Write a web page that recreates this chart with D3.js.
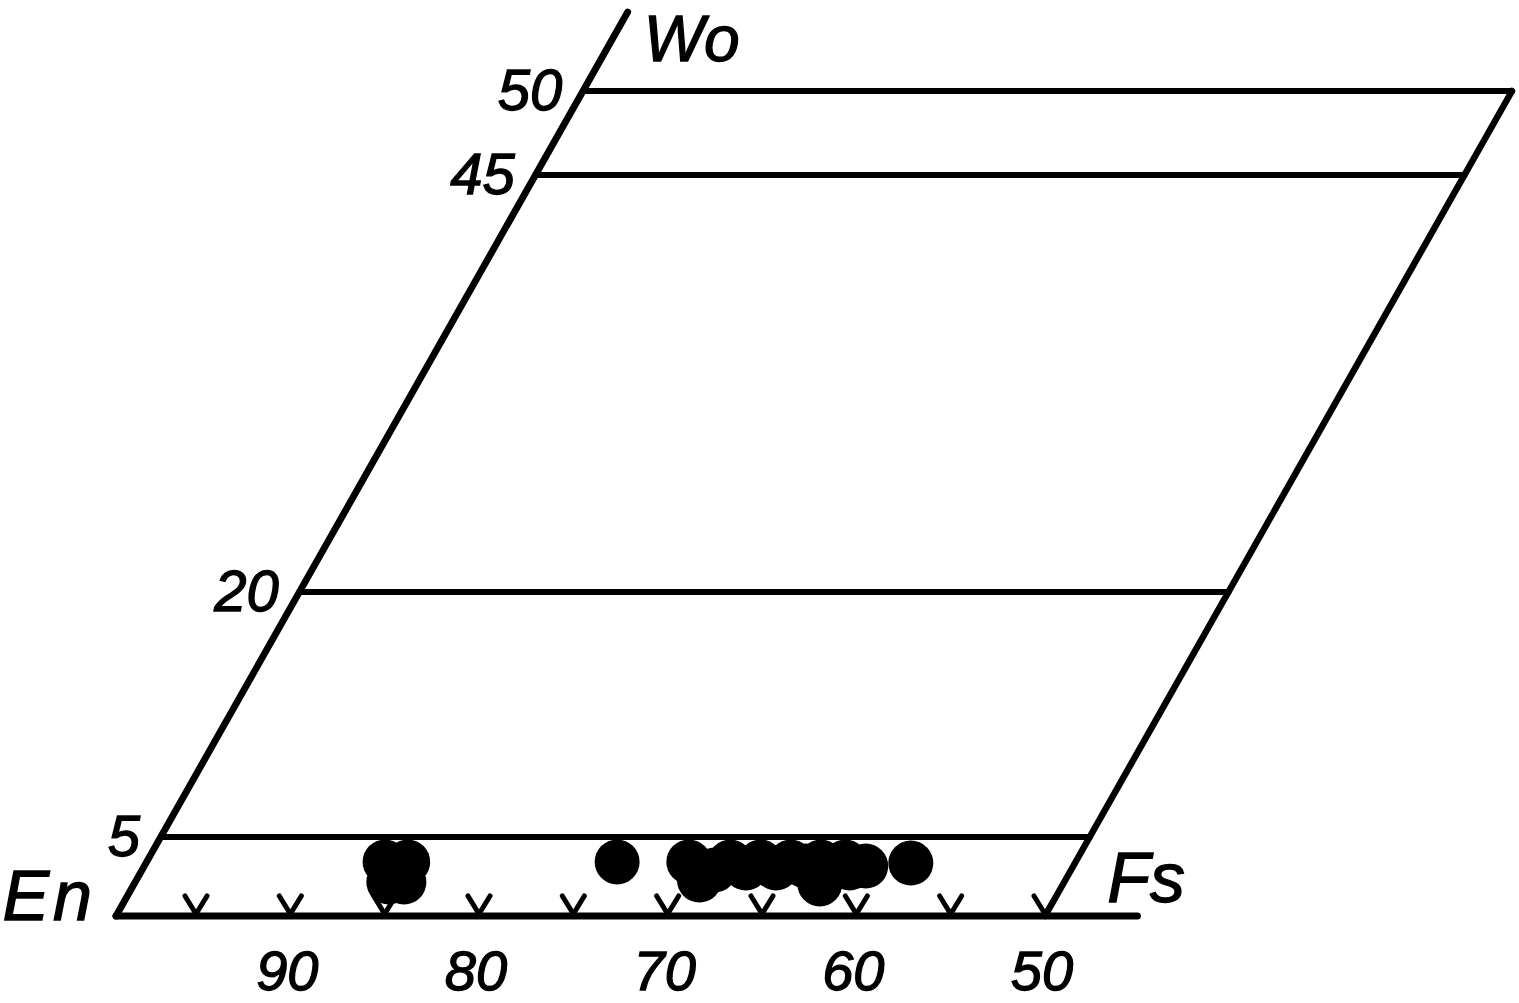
<!DOCTYPE html>
<html>
<head>
<meta charset="utf-8">
<script src="https://cdn.jsdelivr.net/npm/d3@7"></script>
<style>
  html, body { margin: 0; padding: 0; background: #fff; }
  svg { display: block; }
  text { font-family: "Liberation Sans", Arial, sans-serif; font-style: italic; fill: #000; stroke: #000; stroke-width: 1.3; }
</style>
</head>
<body>
<svg id="chart" width="1519" height="1003"></svg>
<script>
// ---- data ----
// Wo levels of the horizontal lines in the pyroxene quadrilateral
const woLevels = [5, 20, 45, 50];
const woLabels = ["5", "20", "45", "50"];
// Fs positions of the V ticks along the En-Fs join
const baseTicks = [5, 10, 15, 20, 25, 30, 35, 40, 45, 50];
// labelled En values on the En-Fs join
const enLabels = [90, 80, 70, 60, 50];
// pyroxene analyses: Wo and Fs (mol %)
const pointWo = [3.42, 3.42, 2.15, 2.15, 3.42, 3.42, 3.42, 3.42, 3.42, 3.42, 3.42, 3.16, 3.35, 2.28, 3.04, 3.04, 2.03, 2.91, 3.04, 3.16];
const pointFs = [13.4, 14.6, 14.2, 15.0, 25.7, 29.5, 31.7, 33.3, 34.9, 36.5, 37.8, 39.0, 41.3, 30.6, 32.7, 34.3, 37.1, 31.1, 38.2, 35.8];
const endMembers = ["En", "Fs", "Wo"];

// ---- scales ----
const svg = d3.select("#chart");
const xs = d3.scaleLinear().domain([0, 5, 50]).range([116, 196, 1045]);
const ys = d3.scaleLinear().domain([0, 5, 20, 45, 50]).range([916, 837, 592, 175, 91]);
const skew = 467 / 825; // horizontal shift per pixel of height
const y0 = ys(0);
const px = (fs, wo) => xs(fs) + skew * (y0 - ys(wo));
const py = wo => ys(wo);

const lw = 6.2;
const g = svg.append("g").attr("fill", "none").attr("stroke", "#000")
  .attr("stroke-linecap", "round").attr("stroke-width", lw);

// base line En-Fs (extended past Fs50)
g.append("line").attr("x1", px(0, 0)).attr("y1", py(0))
  .attr("x2", px(54.9, 0)).attr("y2", py(0)).attr("stroke-width", 7);
// left edge (En-Wo), extended above Wo50
g.append("line").attr("x1", px(0, 0)).attr("y1", py(0))
  .attr("x2", px(0, 54.7)).attr("y2", py(54.7)).attr("stroke-width", 6.8);
// right edge (Fs50 side)
g.append("line").attr("x1", px(50, 0)).attr("y1", py(0))
  .attr("x2", px(50, 50)).attr("y2", py(50)).attr("stroke-width", 6.5);
// horizontal Wo lines
g.selectAll("line.wo").data(woLevels).join("line").attr("class", "wo")
  .attr("x1", d => px(0, d)).attr("y1", d => py(d))
  .attr("x2", d => px(50, d)).attr("y2", d => py(d));

// V ticks
const vPath = fs => {
  const x = xs(fs), y = y0 - 2;
  return `M${x - 11},${y - 18} L${x},${y} L${x + 11},${y - 18}`;
};
g.selectAll("path.v").data(baseTicks).join("path").attr("class", "v")
  .attr("d", vPath).attr("stroke-width", 5).attr("stroke-linejoin", "round");

// points
svg.append("g").selectAll("circle").data(pointFs.map((f, i) => [f, pointWo[i]]))
  .join("circle")
  .attr("cx", d => px(d[0], d[1])).attr("cy", d => py(d[1]))
  .attr("r", 22.5).attr("fill", "#000");

// Wo labels on the left edge
svg.append("g").selectAll("text").data(woLevels).join("text")
  .attr("x", d => px(0, d) - skew * 19 - 10)
  .attr("y", d => py(d) + 19)
  .attr("text-anchor", "end").attr("font-size", 58)
  .text((d, i) => woLabels[i]);

// En labels below base
svg.append("g").selectAll("text").data(enLabels).join("text")
  .attr("x", d => xs(100 - d) - 3)
  .attr("y", 990)
  .attr("text-anchor", "middle").attr("font-size", 56)
  .text(d => d);

// end-member labels
svg.append("text").attr("x", px(0, 0) - 20).attr("y", y0 + 4)
  .attr("text-anchor", "end").attr("font-size", 70).attr("letter-spacing", 4).text(endMembers[0]);
svg.append("text").attr("x", px(53.3, 0)).attr("y", y0 - 14)
  .attr("text-anchor", "start").attr("font-size", 70).text(endMembers[1]);
svg.append("text").attr("x", px(0, 54.7) + 16).attr("y", 61)
  .attr("text-anchor", "start").attr("font-size", 64).text(endMembers[2]);
</script>
</body>
</html>
